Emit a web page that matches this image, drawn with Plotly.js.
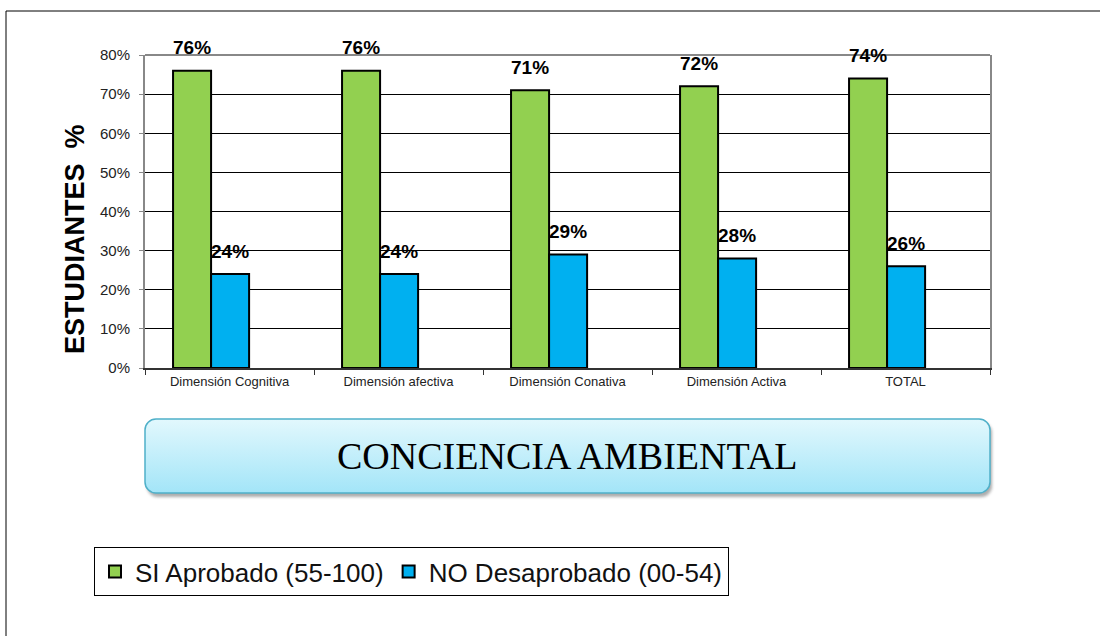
<!DOCTYPE html>
<html>
<head>
<meta charset="utf-8">
<script src="https://cdn.plot.ly/plotly-3.0.1.min.js"></script>
<style>html,body{margin:0;padding:0;background:#fff;}#chart{width:1100px;height:636px;}</style>
</head>
<body>
<div id="chart"></div>
<script>
const categories = ["Dimensión Cognitiva", "Dimensión afectiva", "Dimensión Conativa", "Dimensión Activa", "TOTAL"];
const aprobado = [76, 76, 71, 72, 74];
const desaprobado = [24, 24, 29, 28, 26];
const seriesNames = ["SI Aprobado (55-100)", "NO Desaprobado (00-54)"];
const yTickVals = [0, 10, 20, 30, 40, 50, 60, 70, 80];
const chartTitle = "CONCIENCIA AMBIENTAL";
const yTitle = "ESTUDIANTES  %";

const W = 1100, H = 636;
const M = {l: 145, r: 110, t: 55, b: 268};
const pw = W - M.l - M.r, ph = H - M.t - M.b;
const px = x => (x - M.l) / pw;
const py = y => (H - M.b - y) / ph;
const SANS = 'Liberation Sans, Arial, sans-serif';

const barW = 0.225;
const offG = -0.334, offB = offG + barW;

const traces = [
  {type: 'bar', name: seriesNames[0], x: categories, y: aprobado,
   width: barW, offset: offG,
   marker: {color: '#92D050', line: {color: '#000', width: 2}}, hoverinfo: 'none'},
  {type: 'bar', name: seriesNames[1], x: categories, y: desaprobado,
   width: barW, offset: offB,
   marker: {color: '#00B0F0', line: {color: '#000', width: 2}}, hoverinfo: 'none'}
];

const annotations = [];
[aprobado, desaprobado].forEach((vals, s) => {
  const off = s === 0 ? offG : offB;
  vals.forEach((v, i) => {
    annotations.push({x: i + off + barW / 2, y: v, xref: 'x', yref: 'y', text: v + '%',
      showarrow: false, yanchor: 'middle', yshift: 23,
      font: {family: SANS, size: 19, color: '#000', weight: 'bold'}});
  });
});
annotations.push({xref: 'paper', yref: 'paper', x: px(75), y: py(239), text: '<b>' + yTitle + '</b>',
  textangle: -90, showarrow: false, xanchor: 'center', yanchor: 'middle',
  font: {family: SANS, size: 27, color: '#000'}});
annotations.push({xref: 'paper', yref: 'paper', x: px(567), y: py(456), text: chartTitle,
  showarrow: false, xanchor: 'center', yanchor: 'middle',
  font: {family: 'Liberation Serif, Times New Roman, serif', size: 38, color: '#000'}});

const svg = "<svg xmlns='http://www.w3.org/2000/svg' width='852' height='82' viewBox='0 0 852 82'>" +
  "<defs><linearGradient id='g' x1='0' y1='0' x2='0' y2='1'>" +
  "<stop offset='0' stop-color='#e2f8fd'/><stop offset='1' stop-color='#a3e5f8'/></linearGradient>" +
  "<filter id='f' x='-5%' y='-20%' width='110%' height='150%'><feGaussianBlur stdDeviation='1.5'/></filter></defs>" +
  "<rect x='3' y='4' width='845' height='75' rx='11' fill='#8a8a8a' opacity='0.7' filter='url(#f)'/>" +
  "<rect x='1' y='1' width='845' height='74' rx='11' fill='url(#g)' stroke='#4fb0c9' stroke-width='1.5'/></svg>";
const imgSrc = 'data:image/svg+xml;charset=utf-8,' + encodeURIComponent(svg);

const layout = {
  width: W, height: H,
  margin: M,
  paper_bgcolor: '#fff', plot_bgcolor: '#fff',
  showlegend: true,
  barmode: 'overlay',
  font: {family: SANS, color: '#222'},
  xaxis: {type: 'category', showline: true, linecolor: '#333', linewidth: 2, mirror: false,
    ticks: 'outside', tickson: 'boundaries', ticklen: 5, tickcolor: '#333', tickwidth: 1,
    tickfont: {size: 13, color: '#222'}, showgrid: false, zeroline: false, fixedrange: true},
  yaxis: {range: [0, 80], tickvals: yTickVals, ticktext: yTickVals.map(v => v + '%'),
    showline: true, linecolor: '#888', linewidth: 2, mirror: true,
    ticks: 'outside', ticklen: 4, tickcolor: '#888', ticklabelstandoff: 6,
    tickfont: {size: 15, color: '#222'},
    showgrid: true, gridcolor: '#000', gridwidth: 1, zeroline: false, fixedrange: true},
  legend: {orientation: 'h', x: px(94), y: py(547), xanchor: 'left', yanchor: 'top',
    bordercolor: '#000', borderwidth: 1, bgcolor: '#fff',
    font: {size: 26, color: '#111'}, traceorder: 'normal'},
  annotations: annotations,
  images: [{source: imgSrc, xref: 'paper', yref: 'paper', x: px(144), y: py(418),
    sizex: 852 / pw, sizey: 82 / ph, xanchor: 'left', yanchor: 'top', sizing: 'stretch', layer: 'above'}],
  shapes: [
    {type: 'line', xref: 'paper', yref: 'paper', x0: 0, x1: 1, y0: 1, y1: 1, line: {color: '#888', width: 2}, layer: 'above'},
    {type: 'rect', xref: 'paper', yref: 'paper', x0: px(6), x1: px(1110), y0: py(11), y1: py(650),
      line: {color: '#000', width: 1}, fillcolor: 'rgba(0,0,0,0)', layer: 'below'}
  ]
};

Plotly.newPlot('chart', traces, layout, {displayModeBar: false, staticPlot: true});
</script>
</body>
</html>
